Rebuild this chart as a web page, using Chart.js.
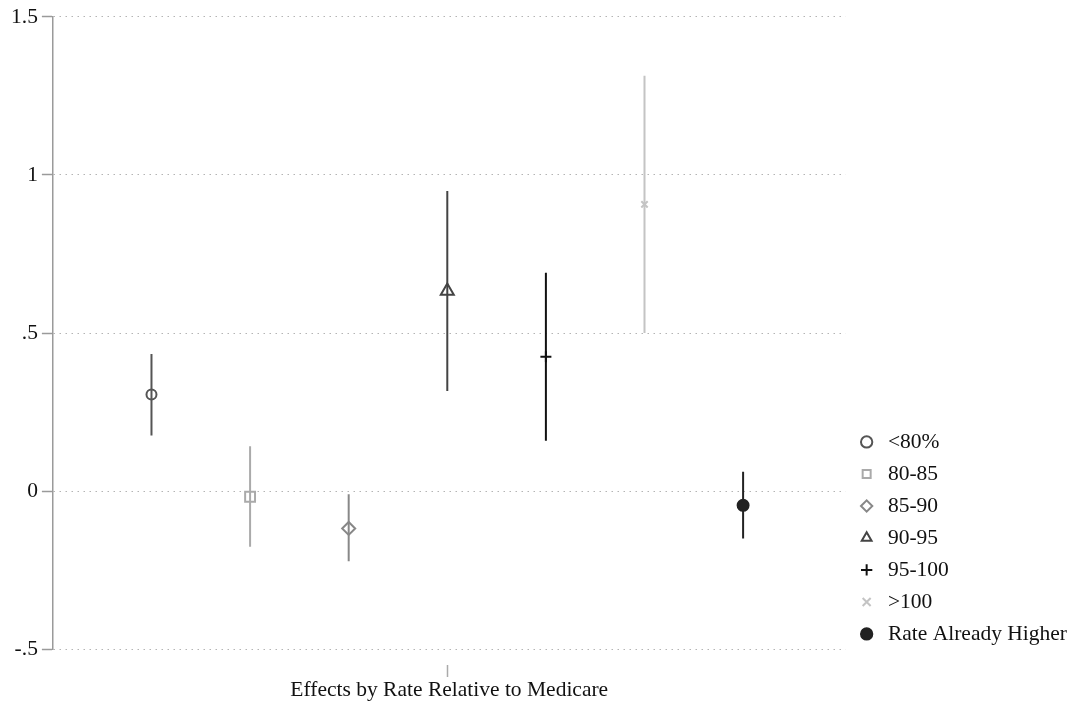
<!DOCTYPE html>
<html lang="en">

<head>
    <meta charset="UTF-8">
    <script src="https://cdn.jsdelivr.net/npm/chart.js@4.4.0/dist/chart.umd.min.js"></script>
    <title>Effects by Rate Relative to Medicare</title>
    <style>
        body {
            margin: 0;
            background: #fff;
        }

        #wrap {
            width: 1071px;
            height: 706px;
        }
    </style>
</head>

<body>
    <div id="wrap"><canvas id="myChart"></canvas></div>

    <script>
        // groups, in the order they sit on the x axis
        const groups = ['<80%', '80-85', '85-90', '90-95', '95-100', '>100', 'Rate Already Higher'];
        const positions = [1, 2, 3, 4, 5, 6, 7];
        const estimates = [0.306, -0.018, -0.118, 0.633, 0.425, 0.907, -0.045];
        const ciLow = [0.176, -0.176, -0.222, 0.317, 0.159, 0.500, -0.150];
        const ciHigh = [0.434, 0.142, -0.010, 0.949, 0.691, 1.314, 0.061];

        const tickValues = [-0.5, 0, 0.5, 1, 1.5];
        const tickLabels = ['-.5', '0', '.5', '1', '1.5'];
        const xTitle = 'Effects by Rate Relative to Medicare';

        // marker look per group
        const colors = ['#555555', '#aaaaaa', '#888888', '#444444', '#111111', '#c4c4c4', '#222222'];
        const styles = ['circle', 'rect', 'rectRot', 'triangle', 'cross', 'crossRot', 'circle'];
        const radii = [5, 7, 6.5, 7.5, 5.5, 4.5, 5.5];
        const fills = ['rgba(0,0,0,0)', 'rgba(0,0,0,0)', 'rgba(0,0,0,0)', 'rgba(0,0,0,0)', '#111111', '#c4c4c4', '#222222'];

        Chart.defaults.font.family = "'Liberation Serif', 'Times New Roman', serif";
        Chart.defaults.color = '#111';

        var datasets = [];
        // point estimates (these make the legend)
        groups.forEach((g, i) => {
            datasets.push({
                type: 'scatter',
                label: g,
                data: [{ x: positions[i], y: estimates[i] }],
                pointStyle: styles[i],
                pointRadius: radii[i],
                pointBorderWidth: 2,
                pointBorderColor: colors[i],
                pointBackgroundColor: fills[i],
                borderColor: colors[i],
                backgroundColor: fills[i],
                order: 0
            });
        });
        // confidence intervals
        groups.forEach((g, i) => {
            datasets.push({
                type: 'line',
                label: g + ' CI',
                isCI: true,
                data: [{ x: positions[i], y: ciLow[i] }, { x: positions[i], y: ciHigh[i] }],
                borderColor: colors[i],
                borderWidth: 2,
                pointRadius: 0,
                order: 1
            });
        });

        // push the legend down a bit, it sits low in the original
        const legendNudge = {
            id: 'legendNudge',
            afterLayout(chart) {
                if (chart.legend) {
                    chart.legend.top += 6;
                    chart.legend.bottom += 6;
                }
            }
        };

        var ctx = document.getElementById('myChart').getContext('2d');
        var graph = new Chart(ctx, {
            data: { datasets: datasets },
            plugins: [legendNudge],
            options: {
                responsive: true,
                maintainAspectRatio: false,
                animation: false,
                events: [],
                layout: {
                    padding: { left: 7, top: 1, right: -6, bottom: 0 }
                },
                scales: {
                    x: {
                        type: 'linear',
                        min: 0,
                        max: 8.04,
                        afterBuildTicks: (scale) => { scale.ticks = [{ value: 4 }]; },
                        ticks: { display: false },
                        border: { display: false },
                        grid: {
                            drawOnChartArea: false,
                            tickLength: 28,
                            tickColor: '#aaa',
                            tickWidth: 1.5,
                            tickBorderDash: [0, 16, 12, 100]
                        },
                        title: {
                            display: true,
                            text: xTitle,
                            font: { size: 21.5 },
                            color: '#111',
                            padding: { top: 0, bottom: 3 }
                        }
                    },
                    y: {
                        type: 'linear',
                        min: -0.5,
                        max: 1.5,
                        afterBuildTicks: (scale) => { scale.ticks = tickValues.map(v => ({ value: v })); },
                        ticks: {
                            padding: 4,
                            font: { size: 21.5 },
                            color: '#111',
                            callback: (v) => tickLabels[tickValues.indexOf(v)]
                        },
                        border: { display: true, color: '#9a9a9a', width: 1.5, dash: [1.5, 4.5] },
                        grid: {
                            color: '#b4b4b4',
                            lineWidth: 1,
                            tickLength: 11,
                            tickColor: '#9a9a9a',
                            tickWidth: 1.5,
                            tickBorderDash: []
                        }
                    }
                },
                plugins: {
                    tooltip: { enabled: false },
                    legend: {
                        position: 'right',
                        align: 'end',
                        fullSize: false,
                        labels: {
                            usePointStyle: true,
                            boxWidth: 21,
                            boxHeight: 8,
                            padding: 10.5,
                            color: '#111',
                            font: { size: 21.5 },
                            filter: (item, data) => !data.datasets[item.datasetIndex].isCI
                        }
                    }
                }
            }
        });
    </script>
</body>

</html>
